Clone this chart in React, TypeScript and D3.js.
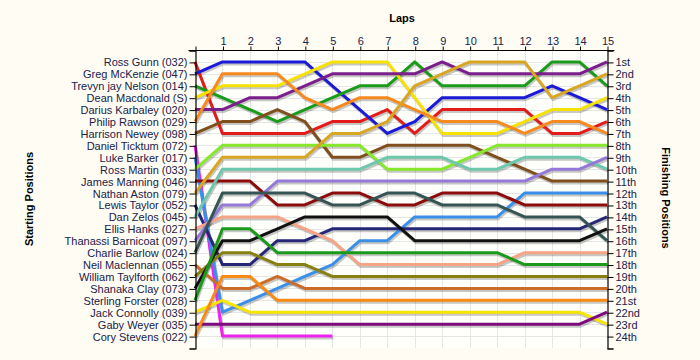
import { useEffect, useRef } from 'react';
import * as d3 from 'd3';

// Starting grid, top to bottom
const drivers = [
    'Ross Gunn (032)', 'Greg McKenzie (047)', 'Trevyn jay Nelson (014)', 'Dean Macdonald (S)',
    'Darius Karbaley (020)', 'Philip Rawson (029)', 'Harrison Newey (098)', 'Daniel Ticktum (072)',
    'Luke Barker (017)', 'Ross Martin (033)', 'James Manning (046)', 'Nathan Aston (079)',
    'Lewis Taylor (052)', 'Dan Zelos (045)', 'Ellis Hanks (027)', 'Thanassi Barnicoat (097)',
    'Charlie Barlow (024)', 'Neil Maclennan (055)', 'William Taylforth (062)', 'Shanaka Clay (073)',
    'Sterling Forster (028)', 'Jack Connolly (039)', 'Gaby Weyer (035)', 'Cory Stevens (022)',
];

const driverColors = [
    '#e41b1b', '#1a1ad8', '#1b9b1b', '#f7e100', '#7b1f8c', '#f78a1f', '#7f4f1e', '#ee22ee',
    '#3a8fe8', '#86e82a', '#8c0b0b', '#d9a623', '#272777', '#6dc8ad', '#f7a386', '#9479d9',
    '#355454', '#cc6b2a', '#878011', '#111111', '#1a9a1a', '#f7e400', '#7e0b7e', '#f98b15',
];

// position of each driver at lap 0..15 (lap 0 = grid)
const lapPositions = [
    [1, 7, 7, 7, 7, 6, 6, 5, 7, 5, 5, 5, 5, 7, 7, 6],
    [2, 1, 1, 1, 1, 3, 5, 7, 6, 4, 4, 4, 4, 3, 4, 5],
    [3, 4, 5, 6, 5, 4, 3, 3, 1, 3, 3, 3, 3, 1, 1, 3],
    [4, 3, 3, 3, 2, 1, 1, 1, 4, 7, 7, 7, 6, 5, 5, 4],
    [5, 5, 4, 4, 3, 2, 2, 2, 2, 1, 2, 2, 2, 2, 2, 1],
    [6, 2, 2, 2, 4, 5, 4, 4, 5, 6, 6, 6, 7, 6, 6, 7],
    [7, 6, 6, 5, 6, 9, 9, 8, 8, 8, 8, 9, 10, 11, 11, 11],
    [8, 24, 24, 24, 24, 24],
    [9, 22, 21, 20, 19, 18, 16, 16, 14, 14, 14, 14, 12, 12, 12, 12],
    [10, 8, 8, 8, 8, 8, 8, 10, 10, 10, 9, 8, 8, 8, 8, 8],
    [11, 11, 11, 13, 13, 12, 12, 13, 13, 12, 12, 12, 13, 13, 13, 13],
    [12, 9, 9, 9, 9, 7, 7, 6, 3, 2, 1, 1, 1, 4, 3, 2],
    [13, 18, 18, 16, 16, 15, 15, 15, 15, 15, 15, 15, 15, 15, 15, 14],
    [14, 10, 10, 10, 10, 10, 10, 9, 9, 9, 10, 10, 9, 9, 9, 10],
    [15, 14, 14, 14, 15, 16, 18, 18, 18, 18, 18, 18, 17, 17, 17, 17],
    [16, 13, 13, 11, 11, 11, 11, 11, 11, 11, 11, 11, 11, 10, 10, 9],
    [17, 12, 12, 12, 12, 13, 13, 12, 12, 13, 13, 13, 14, 14, 14, 16],
    [18, 20, 20, 19, 20, 20, 20, 20, 20, 20, 20, 20, 20, 20, 20, 20],
    [19, 17, 17, 18, 18, 19, 19, 19, 19, 19, 19, 19, 19, 19, 19, 19],
    [20, 16, 16, 15, 14, 14, 14, 14, 16, 16, 16, 16, 16, 16, 16, 15],
    [21, 15, 15, 17, 17, 17, 17, 17, 17, 17, 17, 17, 18, 18, 18, 18],
    [22, 21, 22, 22, 22, 22, 22, 22, 22, 22, 22, 22, 22, 22, 22, 23],
    [23, 23, 23, 23, 23, 23, 23, 23, 23, 23, 23, 23, 23, 23, 23, 22],
    [24, 19, 19, 21, 21, 21, 21, 21, 21, 21, 21, 21, 21, 21, 21, 21],
];

const finishLabels = [
    '1st', '2nd', '3rd', '4th', '5th', '6th', '7th', '8th', '9th', '10th', '11th', '12th',
    '13th', '14th', '15th', '16th', '17th', '18th', '19th', '20th', '21st', '22nd', '23rd', '24th',
];

const laps = d3.range(0, 16);

const LapChart = () => {
    const svgRef = useRef<SVGSVGElement>(null);

    useEffect(() => {
        if (!svgRef.current) return;
        d3.select(svgRef.current).selectAll('*').remove();

        const font = '"Liberation Sans", Arial, sans-serif';
        const textColor = '#20204a';
        const left = 195, right = 607, top = 50, bottom = 348;

        const svg = d3.select(svgRef.current)
            .attr('width', 700)
            .attr('height', 360)
            .style('font-family', font);

        svg.append('rect').attr('width', 700).attr('height', 360).attr('fill', '#fffdf3');
        svg.append('rect')
            .attr('x', left).attr('y', top)
            .attr('width', right - left).attr('height', bottom - top)
            .attr('fill', '#fffffb');

        const x = d3.scaleLinear().domain([0, 15]).range([left, right]);
        const y = d3.scaleLinear().domain([0, 25]).range([top, bottom]);

        // grid
        const grid = svg.append('g').attr('stroke', '#e6e6e6').attr('stroke-width', 1);
        laps.slice(1, 15).forEach(l => {
            grid.append('line')
                .attr('x1', Math.round(x(l)) + 0.5).attr('x2', Math.round(x(l)) + 0.5)
                .attr('y1', top).attr('y2', bottom);
        });
        d3.range(1, 25).forEach(p => {
            grid.append('line')
                .attr('x1', left).attr('x2', right)
                .attr('y1', Math.round(y(p)) + 0.5).attr('y2', Math.round(y(p)) + 0.5);
        });

        const line = d3.line<number>()
            .x((_, i) => x(i))
            .y(d => y(d));

        // shadows
        const shadows = svg.append('g').attr('transform', 'translate(1,2)');
        lapPositions.forEach(pos => {
            shadows.append('path')
                .datum(pos)
                .attr('d', line)
                .attr('fill', 'none')
                .attr('stroke', 'rgba(0,0,0,0.22)')
                .attr('stroke-width', 3)
                .attr('stroke-linejoin', 'round');
        });

        lapPositions.forEach((pos, i) => {
            svg.append('path')
                .datum(pos)
                .attr('d', line)
                .attr('fill', 'none')
                .attr('stroke', driverColors[i])
                .attr('stroke-width', 3)
                .attr('stroke-linejoin', 'round');
        });

        // left axis: starting positions
        const yTicks = d3.range(0, 26);
        const leftAxis = d3.axisLeft(y)
            .tickValues(yTicks)
            .tickSize(6)
            .tickPadding(2)
            .tickFormat(d => (d >= 1 && d <= 24 ? drivers[+d - 1] : ''));
        const gl = svg.append('g').attr('transform', `translate(${left + 0.5},0.5)`).call(leftAxis);

        const rightAxis = d3.axisRight(y)
            .tickValues(yTicks)
            .tickSize(6)
            .tickPadding(2)
            .tickFormat(d => (d >= 1 && d <= 24 ? finishLabels[+d - 1] : ''));
        const gr = svg.append('g').attr('transform', `translate(${right + 0.5},0.5)`).call(rightAxis);

        const topAxis = d3.axisTop(x)
            .tickValues(laps)
            .tickSize(4)
            .tickPadding(2)
            .tickFormat(d => (+d === 0 ? '' : String(d)));
        const gt = svg.append('g').attr('transform', `translate(0.5,${top + 0.5})`).call(topAxis);

        [gl, gr, gt].forEach(g => {
            g.select('.domain').attr('stroke', '#000').attr('stroke-width', 1.2);
            g.selectAll('.tick line').attr('stroke', '#000');
            g.selectAll('text')
                .attr('fill', textColor)
                .style('font-family', font)
                .style('font-size', '11px');
        });
        gt.select('.domain').attr('d', `M${left - 7},0H${right + 7}`);

        svg.append('text')
            .attr('x', 402).attr('y', 22)
            .attr('text-anchor', 'middle')
            .style('font-size', '11px').style('font-weight', 'bold')
            .text('Laps');

        svg.append('text')
            .attr('transform', 'translate(33,199) rotate(-90)')
            .attr('text-anchor', 'middle')
            .style('font-size', '11px').style('font-weight', 'bold')
            .text('Starting Positions');

        svg.append('text')
            .attr('transform', 'translate(662,198) rotate(90)')
            .attr('text-anchor', 'middle')
            .style('font-size', '11px').style('font-weight', 'bold')
            .text('Finishing Positions');
    }, []);

    return <svg ref={svgRef} style={{ position: 'absolute', left: 0, top: 0 }}></svg>;
};

export default function App() {
    return <LapChart />;
}
